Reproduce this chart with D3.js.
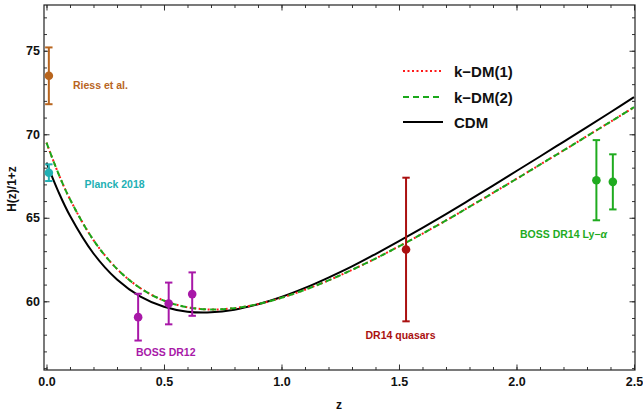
<!DOCTYPE html>
<html>
<head>
<meta charset="utf-8">
<script src="https://cdn.jsdelivr.net/npm/d3@7"></script>
<style>
  html, body { margin: 0; padding: 0; background: #fff; }
  svg { display: block; font-family: "Liberation Sans", Arial, Helvetica, sans-serif; }
</style>
</head>
<body>
<svg id="chart" width="643" height="420"></svg>
<script>
// ---------- data ----------
const zGrid = [0, 0.05, 0.1, 0.2, 0.3, 0.4, 0.5, 0.6, 0.7, 0.8, 0.9, 1.0, 1.1, 1.2, 1.3, 1.4, 1.5, 1.6, 1.7, 1.8, 1.9, 2.0, 2.1, 2.2, 2.3, 2.4, 2.5];
const cdmValues = [68.30, 66.58, 65.12, 62.86, 61.30, 60.28, 59.67, 59.38, 59.34, 59.50, 59.82, 60.26, 60.80, 61.42, 62.09, 62.83, 63.60, 64.40, 65.22, 66.07, 66.93, 67.80, 68.67, 69.55, 70.43, 71.32, 72.22];
const kdm1Values = [69.50, 67.67, 66.11, 63.66, 61.94, 60.78, 60.04, 59.64, 59.51, 59.59, 59.83, 60.21, 60.69, 61.25, 61.88, 62.56, 63.29, 64.05, 64.84, 65.66, 66.49, 67.33, 68.18, 69.03, 69.89, 70.75, 71.62];
const kdm2Values = [69.50, 67.67, 66.11, 63.66, 61.94, 60.78, 60.04, 59.64, 59.51, 59.59, 59.83, 60.21, 60.69, 61.25, 61.88, 62.56, 63.29, 64.05, 64.84, 65.66, 66.49, 67.33, 68.18, 69.03, 69.89, 70.75, 71.62];

const riessZ = [0.01], riessH = [73.5], riessErr = [1.7];
const planckZ = [0.01], planckH = [67.7], planckErr = [0.5];
const bossDR12Z = [0.39, 0.52, 0.62], bossDR12H = [59.05, 59.87, 60.43], bossDR12Err = [1.40, 1.25, 1.30];
const dr14qZ = [1.53], dr14qH = [63.1], dr14qErr = [4.3];
const lyaZ = [2.34, 2.41], lyaH = [67.25, 67.15], lyaErr = [2.4, 1.65];

const xMajor = [0, 0.5, 1.0, 1.5, 2.0, 2.5];
const yMajor = [60, 65, 70, 75];
const xMinor = d3.range(0, 26).map(i => i / 10);
const yMinor = d3.range(56, 78);

const legendNames = ["k\u2212DM(1)", "k\u2212DM(2)", "CDM"];

// ---------- layout ----------
const L = 44, R = 635, T = 5, B = 370;
const svg = d3.select("#chart");
const x = d3.scaleLinear().domain([-0.0106, 2.5043]).range([L, R]);
const y = d3.scaleLinear().domain([55.886, 77.74]).range([B, T]);

svg.append("defs").append("clipPath").attr("id", "clip")
  .append("rect").attr("x", L).attr("y", T).attr("width", R - L).attr("height", B - T);

// ---------- axes / ticks ----------
function tickAxis(axisFn, scale, vals, size, fmt, transform, pad) {
  const a = axisFn(scale).tickValues(vals).tickSize(size).tickPadding(pad || 3);
  a.tickFormat(fmt ? fmt : () => "");
  const g = svg.append("g").attr("transform", transform).call(a);
  g.select(".domain").remove();
  g.selectAll("line").attr("stroke", "#333").attr("stroke-width", 1);
  g.selectAll("text").attr("fill", "#111").style("font-size", "12.5px").style("font-weight", "bold").attr("font-family", null);
  return g;
}
// bottom
tickAxis(d3.axisBottom, x, xMinor, -3, null, `translate(0,${B})`);
tickAxis(d3.axisBottom, x, xMajor, -5.5, d3.format(".1f"), `translate(0,${B})`, 7);
// top
tickAxis(d3.axisTop, x, xMinor, -3, null, `translate(0,${T})`);
tickAxis(d3.axisTop, x, xMajor, -5.5, null, `translate(0,${T})`);
// left
tickAxis(d3.axisLeft, y, yMinor, -3, null, `translate(${L},0)`);
tickAxis(d3.axisLeft, y, yMajor, -5.5, d3.format("d"), `translate(${L},0)`, 4);
// right
tickAxis(d3.axisRight, y, yMinor, -3, null, `translate(${R},0)`);
tickAxis(d3.axisRight, y, yMajor, -5.5, null, `translate(${R},0)`);

svg.append("rect").attr("x", L).attr("y", T).attr("width", R - L).attr("height", B - T)
  .attr("fill", "none").attr("stroke", "#222").attr("stroke-width", 1.2);

// axis titles
svg.append("text").attr("x", 339).attr("y", 405).attr("text-anchor", "middle")
  .attr("dominant-baseline", "central").style("font-size", "12px").style("font-weight", "bold").attr("fill", "#111").text("z");
svg.append("text").attr("transform", "translate(12,189) rotate(-90)").attr("text-anchor", "middle")
  .attr("dominant-baseline", "central").style("font-size", "12px").style("font-weight", "bold").attr("fill", "#111").text("H(z)/1+z");

// ---------- curves ----------
const line = d3.line().x(d => x(d[0])).y(d => y(d[1])).curve(d3.curveCatmullRom);
const plotG = svg.append("g").attr("clip-path", "url(#clip)");
const zip = vals => zGrid.map((z, i) => [z, vals[i]]);

plotG.append("path").datum(zip(cdmValues)).attr("d", line)
  .attr("fill", "none").attr("stroke", "#000").attr("stroke-width", 2);
plotG.append("path").datum(zip(kdm1Values)).attr("d", line)
  .attr("fill", "none").attr("stroke", "#ff1a1a").attr("stroke-width", 2).attr("stroke-dasharray", "2,2.5");
plotG.append("path").datum(zip(kdm2Values)).attr("d", line)
  .attr("fill", "none").attr("stroke", "#1aa81a").attr("stroke-width", 2).attr("stroke-dasharray", "6,4");

// ---------- data points ----------
function errorSet(zs, hs, es, color) {
  const g = svg.append("g");
  zs.forEach((z, i) => {
    const cx = x(z), y0 = y(hs[i] - es[i]), y1 = y(hs[i] + es[i]);
    g.append("line").attr("x1", cx).attr("x2", cx).attr("y1", y0).attr("y2", y1).attr("stroke", color).attr("stroke-width", 2);
    [y0, y1].forEach(yy => g.append("line").attr("x1", cx - 3.7).attr("x2", cx + 3.7).attr("y1", yy).attr("y2", yy)
      .attr("stroke", color).attr("stroke-width", 2));
    g.append("circle").attr("cx", cx).attr("cy", y(hs[i])).attr("r", 4.3).attr("fill", color);
  });
}
const cRiess = "#b8651e", cPlanck = "#22b0b4", cBoss = "#a818a8", cQso = "#aa1010", cLya = "#1fab1f";
errorSet(riessZ, riessH, riessErr, cRiess);
errorSet(planckZ, planckH, planckErr, cPlanck);
errorSet(bossDR12Z, bossDR12H, bossDR12Err, cBoss);
errorSet(dr14qZ, dr14qH, dr14qErr, cQso);
errorSet(lyaZ, lyaH, lyaErr, cLya);

// ---------- labels ----------
function label(px, py, txt, color) {
  return svg.append("text").attr("x", px).attr("y", py).attr("dominant-baseline", "central")
    .style("font-size", "10.5px").style("font-weight", "bold").attr("fill", color).text(txt);
}
label(73, 84.5, "Riess et al.", cRiess);
label(84.5, 184, "Planck 2018", cPlanck);
label(136, 352, "BOSS DR12", cBoss);
label(365.5, 335, "DR14 quasars", cQso);
const ly = label(520, 234, "BOSS DR14 Ly\u2212", cLya);
ly.append("tspan").style("font-style", "italic").text("\u03b1");

// ---------- legend ----------
const legendStyles = [
  { color: "#ff1a1a", dash: "2,2.5" },
  { color: "#1aa81a", dash: "6,4" },
  { color: "#000", dash: null }
];
const legendY = [71, 97, 122];
legendNames.forEach((name, i) => {
  svg.append("line").attr("x1", 403).attr("x2", 443).attr("y1", legendY[i]).attr("y2", legendY[i])
    .attr("stroke", legendStyles[i].color).attr("stroke-width", 2)
    .attr("stroke-dasharray", legendStyles[i].dash);
  svg.append("text").attr("x", 454).attr("y", legendY[i]).attr("dominant-baseline", "central")
    .style("font-size", "15px").style("font-weight", "bold").attr("fill", "#111").text(name);
});
</script>
</body>
</html>
